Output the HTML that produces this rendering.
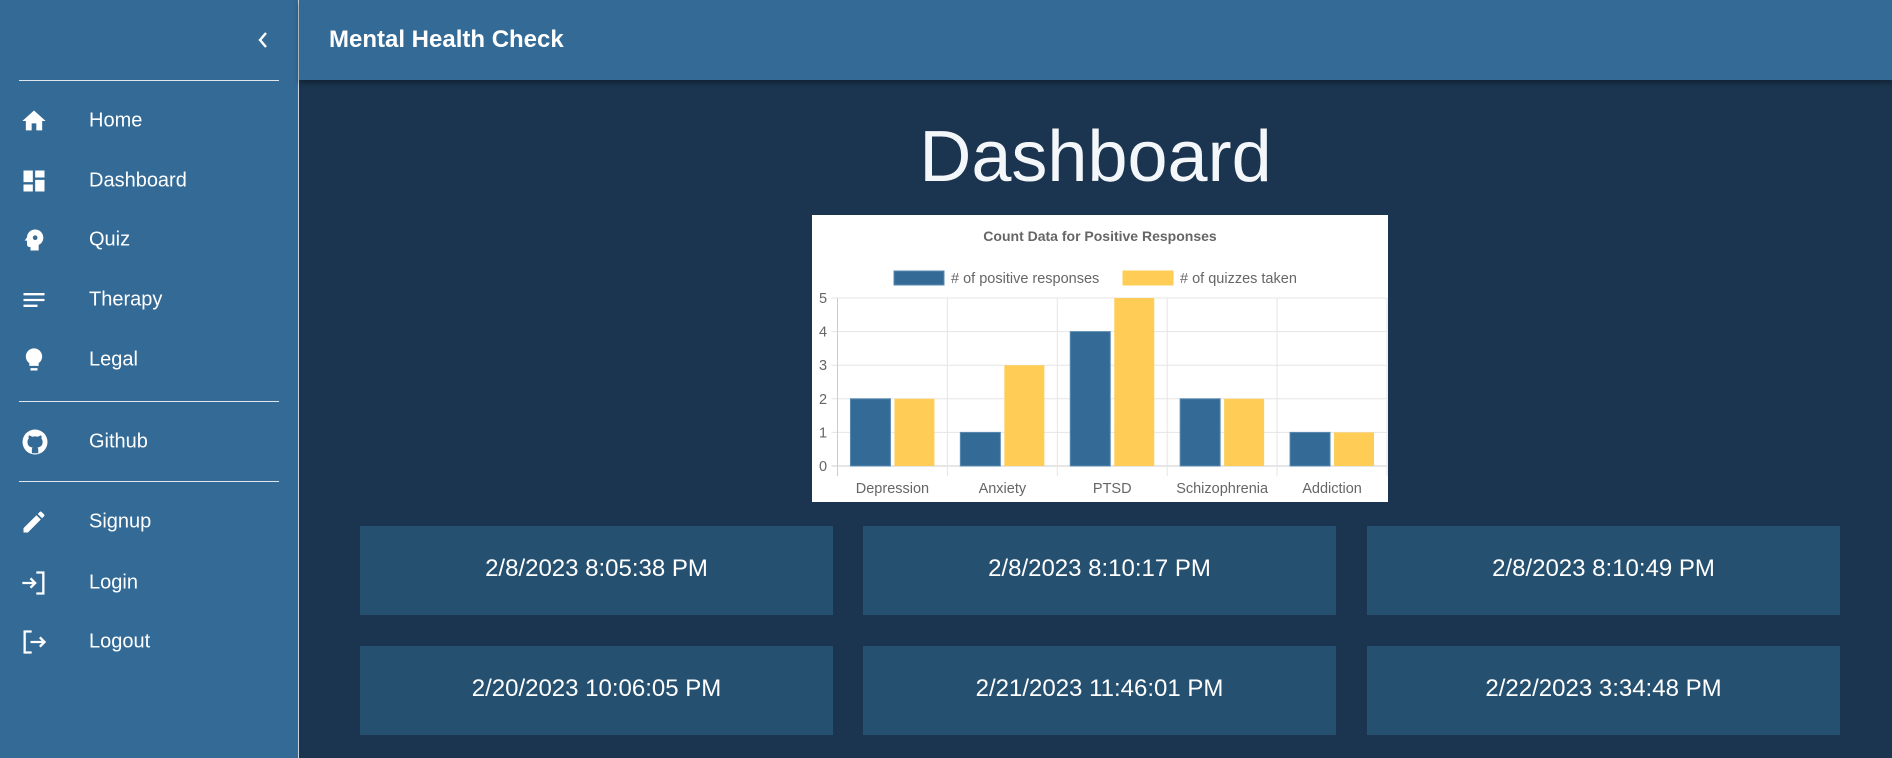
<!DOCTYPE html>
<html><head><meta charset="utf-8">
<style>
*{box-sizing:border-box;margin:0;padding:0}
body{width:1892px;height:758px;overflow:hidden;background:#1b3550;font-family:"Liberation Sans",sans-serif;position:relative}
#sidebar{position:absolute;left:0;top:0;width:299px;height:758px;background:#336a96;border-right:1px solid #c9d6e2}
.div{position:absolute;left:19px;width:260px;height:1px;background:#dfe6ee}
.nav{position:absolute;left:0;width:298px;height:50px;color:#fff;font-size:20px}
.nav span{position:absolute;left:89px;top:50%;transform:translateY(-50%)}
.nav svg{position:absolute;left:20px;top:50%;transform:translateY(-50%)}
#header{position:absolute;left:299px;top:0;width:1593px;height:80px;background:#336a96;box-shadow:0 3px 5px rgba(0,0,0,.35)}
#header h1{position:absolute;left:30px;top:26px;color:#fff;font-size:24px;font-weight:bold}
#title{position:absolute;left:299px;width:1593px;top:115px;text-align:center;color:#f4f7fa;font-size:72px;font-weight:300;line-height:84px}
#chart{position:absolute;left:812px;top:215px;width:576px;height:287px;background:#fff}
.card{position:absolute;width:473px;height:89px;background:#26506f;color:#fff;font-size:24px;text-align:center;line-height:85px}
</style></head><body>
<div id="sidebar">
 <svg style="position:absolute;left:255px;top:31px" width="16" height="18" viewBox="0 0 16 18"><path d="M11 2 L5 9 L11 16" stroke="#fff" stroke-width="2.4" fill="none"/></svg>
 <div class="div" style="top:80px"></div>
 <div class="nav" style="top:96px"><svg width="28" height="28" viewBox="0 0 24 24"><path fill="#fff" d="M10 20v-6h4v6h5v-8h3L12 3 2 12h3v8z"/></svg><span>Home</span></div>
 <div class="nav" style="top:156px"><svg width="28" height="28" viewBox="0 0 24 24"><path fill="#fff" d="M3 13h8V3H3zm0 8h8v-6H3zm10 0h8V11h-8zm0-18v6h8V3z"/></svg><span>Dashboard</span></div>
 <div class="nav" style="top:215px"><svg width="28" height="28" viewBox="0 0 24 24"><path fill="#fff" d="M13 3C9.2 3 6.1 5.9 6 9.6L4 12.5h2V16c0 1.1.9 2 2 2h1v3h7v-4.7c2.4-1.1 4-3.5 4-6.3 0-3.9-3.1-7-7-7z"/><circle cx="13" cy="10" r="2" fill="#336a96"/></svg><span>Quiz</span></div>
 <div class="nav" style="top:275px"><svg width="28" height="28" viewBox="0 0 24 24"><path fill="#fff" d="M3 6h18v2H3zm0 5h18v2H3zm0 5h12v2H3z"/></svg><span>Therapy</span></div>
 <div class="nav" style="top:335px"><svg width="28" height="28" viewBox="0 0 24 24"><path fill="#fff" d="M9 21h6v-2H9zm3-19C8.1 2 5 5.1 5 9c0 2.4 1.2 4.5 3 5.7V17h8v-2.3c1.8-1.3 3-3.4 3-5.7 0-3.9-3.1-7-7-7z"/></svg><span>Legal</span></div>
 <div class="div" style="top:401px"></div>
 <div class="nav" style="top:417px"><svg width="30" height="30" viewBox="0 0 24 24"><circle cx="12" cy="12" r="10" fill="#fff"/><path fill="#336a96" d="M9.5 21v-3c0-.8.3-1.3.6-1.6-2.2-.3-4.1-1.1-4.1-4.6 0-1 .3-1.8 1-2.5-.1-.3-.4-1.2.1-2.5 0 0 .8-.3 2.6 1a9 9 0 0 1 4.7 0c1.8-1.3 2.6-1 2.6-1 .5 1.3.2 2.2.1 2.5.6.7 1 1.5 1 2.5 0 3.5-2 4.3-4.1 4.6.3.3.6.9.6 1.8v2.8z"/></svg><span>Github</span></div>
 <div class="div" style="top:481px"></div>
 <div class="nav" style="top:497px"><svg width="28" height="28" viewBox="0 0 24 24"><path fill="#fff" d="M3 17.2V21h3.8L17.8 9.9l-3.7-3.7zM20.7 7c.4-.4.4-1 0-1.4l-2.3-2.3c-.4-.4-1-.4-1.4 0l-1.8 1.8 3.7 3.7z"/></svg><span>Signup</span></div>
 <div class="nav" style="top:558px"><svg width="28" height="28" viewBox="0 0 24 24" fill="none" stroke="#fff" stroke-width="2"><path d="M2 12h11M9 8l4 4-4 4M14 3h6v18h-6"/></svg><span>Login</span></div>
 <div class="nav" style="top:617px"><svg width="28" height="28" viewBox="0 0 24 24" fill="none" stroke="#fff" stroke-width="2"><path d="M10 3H4v18h6M9 12h12M17 8l4 4-4 4"/></svg><span>Logout</span></div>
</div>
<div id="header"><h1>Mental Health Check</h1></div>
<div id="title">Dashboard</div>
<div id="chart">
<svg id="svg" width="576" height="287" font-family="Liberation Sans, sans-serif"></svg>
</div>
<div class="card" style="left:360px;top:526px">2/8/2023 8:05:38 PM</div>
<div class="card" style="left:863px;top:526px">2/8/2023 8:10:17 PM</div>
<div class="card" style="left:1367px;top:526px">2/8/2023 8:10:49 PM</div>
<div class="card" style="left:360px;top:646px">2/20/2023 10:06:05 PM</div>
<div class="card" style="left:863px;top:646px">2/21/2023 11:46:01 PM</div>
<div class="card" style="left:1367px;top:646px">2/22/2023 3:34:48 PM</div>
<script>
const categories=["Depression","Anxiety","PTSD","Schizophrenia","Addiction"];
const positiveResponses=[2,1,4,2,1];
const quizzesTaken=[2,3,5,2,1];
const yTicks=[0,1,2,3,4,5];
const seriesNames=["# of positive responses","# of quizzes taken"];
const NS="http://www.w3.org/2000/svg";
const svg=document.getElementById('svg');
const L=25.5,R=575,T=83,B=251,yMax=5;
const cw=(R-L)/categories.length;
const y=v=>B-(B-T)*v/yMax;
const x=i=>L+cw*i;
function mk(t,a,p){const e=document.createElementNS(NS,t);for(const k in a)e.setAttribute(k,a[k]);(p||svg).appendChild(e);return e;}
let t=mk('text',{x:288,y:26,'text-anchor':'middle','font-size':14,'font-weight':'bold',fill:'#666'});t.textContent="Count Data for Positive Responses";


const cols=["#336a96","#ffcd56"];
const lx=[82,311];
seriesNames.forEach((n,i)=>{
 const r=mk('rect',{x:lx[i],y:56,width:50,height:14,fill:cols[i],stroke:i?'#ffcd56':'#5a8ab0'});
 
 
 const tx=mk('text',{x:lx[i]+57,y:68,'font-size':14.5,fill:'#666'});tx.textContent=n;
 
 
});
yTicks.forEach(v=>{
 const g=mk('line',{x1:L-6,x2:R,y1:y(v),y2:y(v),stroke:v===0?'#ccc':'#e5e5e5'});
 
 
 const tl=mk('text',{x:11,y:y(v)+5,'text-anchor':'middle','font-size':14.5,fill:'#666'});tl.textContent=v;
 
 
});
for(let i=0;i<=categories.length;i++){
 const g=mk('line',{x1:x(i),x2:x(i),y1:T,y2:B+10,stroke:i===0?'#ccc':'#e5e5e5'});
 
 
}
categories.forEach((c,i)=>{
 const cx=x(i)+cw/2,bw=40;
 const b1=mk('rect',{x:cx-bw-2,y:y(positiveResponses[i]),width:bw,height:B-y(positiveResponses[i]),fill:cols[0],stroke:'#5a8ab0'});
 
 
 const b2=mk('rect',{x:cx+2,y:y(quizzesTaken[i]),width:bw,height:B-y(quizzesTaken[i]),fill:cols[1]});
 
 
 const tl=mk('text',{x:cx,y:278,'text-anchor':'middle','font-size':14.5,fill:'#666'});tl.textContent=c;
 
 
});
</script>
</body></html>
